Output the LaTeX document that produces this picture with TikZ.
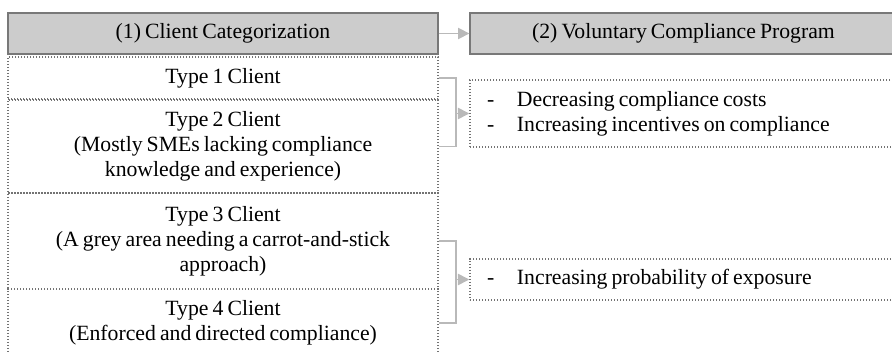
\documentclass[tikz,border=0pt]{standalone}
\usepackage{fontspec}
\setmainfont[WordSpace=0.75]{Liberation Serif}
\usetikzlibrary{arrows.meta}
\definecolor{hdrfill}{RGB}{204,204,204}
\definecolor{hdrline}{RGB}{120,120,120}
\definecolor{dotline}{RGB}{115,115,115}
\definecolor{linkgray}{RGB}{185,185,185}
\begin{document}
\begin{tikzpicture}[x=0.75pt,y=0.75pt,yscale=-1,xscale=1,
    every node/.style={font=\fontsize{16.3}{18.75}\selectfont, text=black},
    header/.style={draw=hdrline, line width=1pt, fill=hdrfill, minimum height=30.75pt, inner sep=0pt},
    typebox/.style={draw=dotline, line width=1.1pt, dash pattern=on 0.9pt off 1.35pt, minimum width=322.5pt, inner sep=0pt, align=center},
    progbox/.style={draw=dotline, line width=1.1pt, dash pattern=on 0.9pt off 1.35pt, inner xsep=12.75pt, inner ysep=0pt, text width=294.75pt, align=flush left},
    link/.style={draw=linkgray, line width=1.1pt},
    flow/.style={link, -{Triangle[length=8.5pt,width=8.5pt]}}]
\useasboundingbox (0,0) rectangle (892,353);
\clip (0,0) rectangle (892,353);

% Headers
\node [header, minimum width=322.5pt] (cat) at (223,33.5) {(1) Client Categorization};
\node [header, minimum width=320.25pt] (vcp) at (683.5,33.5) {(2) Voluntary Compliance Program};

% Client types
\node [typebox, minimum height=31.5pt] (type1) at (223,78) {Type 1 Client};
\node [typebox, minimum height=69.75pt] (type2) at (223,146.5) {Type 2 Client\\(Mostly SMEs lacking compliance\\knowledge and experience)};
\node [typebox, minimum height=72pt] (type3) at (223,241) {Type 3 Client\\(A grey area needing a carrot-and-stick\\approach)};
\node [typebox, minimum height=51pt] (type4) at (223,323) {Type 4 Client\\(Enforced and directed compliance)};

% Program measures
\node [progbox, minimum height=50.25pt] (meas1) at (683.5,113.5) {\makebox[22.5pt][l]{-}Decreasing compliance costs\\\makebox[22.5pt][l]{-}Increasing incentives on compliance};
\node [progbox, minimum height=30.75pt] (meas2) at (683.5,279.5) {\makebox[22.5pt][l]{-}Increasing probability of exposure};

% Brackets
\coordinate (brk1) at (456,113.5);
\coordinate (brk2) at (456,279.5);

\draw [flow] (cat) -- (vcp);
\draw [link] (type1.east) -| (brk1) |- (type2.east);
\draw [flow] (brk1) -- (meas1.west);
\draw [link] (type3.east) -| (brk2) |- (type4.east);
\draw [flow] (brk2) -- (meas2.west);

\end{tikzpicture}
\end{document}
